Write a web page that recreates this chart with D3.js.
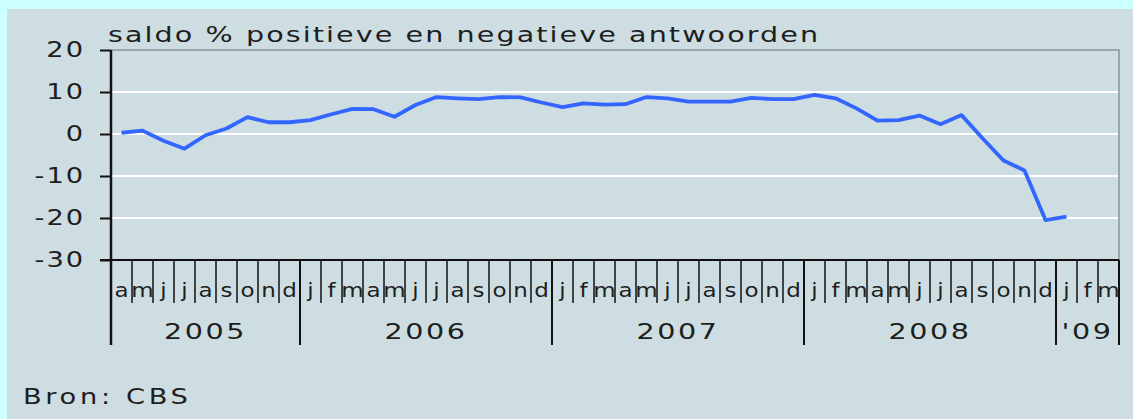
<!DOCTYPE html>
<html>
<head>
<meta charset="utf-8">
<script src="https://cdn.jsdelivr.net/npm/d3@7"></script>
<style>
  html, body { margin: 0; padding: 0; background: #ccffff; }
  svg { display: block; }
  text { font-family: "DejaVu Sans", Verdana, sans-serif; fill: #1e1e1e; }
</style>
</head>
<body>
<svg id="chart"></svg>
<script>
// maanden april 2005 t/m maart 2009
const maanden = [
  "a","m","j","j","a","s","o","n","d",
  "j","f","m","a","m","j","j","a","s","o","n","d",
  "j","f","m","a","m","j","j","a","s","o","n","d",
  "j","f","m","a","m","j","j","a","s","o","n","d",
  "j","f","m"
];
const jaren = ["2005", "2006", "2007", "2008", "'09"];
const maandenPerJaar = [9, 12, 12, 12, 3];

// saldo % positieve en negatieve antwoorden, april 2005 t/m januari 2009
const saldo = [
  0.3, 0.8, -1.6, -3.5, -0.3, 1.3, 4.0, 2.8, 2.8,
  3.3, 4.7, 6.0, 5.9, 4.1, 6.9, 8.8, 8.5, 8.3, 8.8, 8.7, 7.5,
  6.4, 7.3, 7.0, 7.1, 8.8, 8.5, 7.7, 7.7, 7.7, 8.6, 8.3, 8.3,
  9.3, 8.5, 6.1, 3.2, 3.3, 4.4, 2.3, 4.5, -1.0, -6.3, -8.7,
  -20.5, -19.7
];
const yTicks = [20, 10, 0, -10, -20, -30];

const W = 1133, H = 419;
const SX = 1.3; // the original lettering is stretched wide
const svg = d3.select("#chart").attr("width", W).attr("height", H);

svg.append("rect").attr("width", W).attr("height", H).attr("fill", "#ccffff");
svg.append("rect").attr("x", 7).attr("y", 9)
   .attr("width", W - 7).attr("height", H - 9).attr("fill", "#cddde2");

const pLeft = 111, pRight = 1119, pTop = 50, pBottom = 260;

const idx = d3.range(maanden.length);
const x = d3.scaleBand().domain(idx).range([pLeft, pRight]).paddingInner(0).paddingOuter(0);
const y = d3.scaleLinear().domain([-30, 20]).range([pBottom, pTop]);

function wideText(sel, tx, ty, str, size, ls, anchor) {
  return sel.append("text")
    .attr("transform", `translate(${tx},${ty}) scale(${SX},1)`)
    .attr("font-size", size).attr("letter-spacing", ls)
    .attr("text-anchor", anchor || "start")
    .text(str);
}

// grid
svg.append("g").selectAll("line")
   .data(yTicks.filter(d => d > -30 && d < 20)).enter().append("line")
   .attr("x1", pLeft).attr("x2", pRight)
   .attr("y1", d => y(d)).attr("y2", d => y(d))
   .attr("stroke", "#fff").attr("stroke-width", 2);

// frame top + right
svg.append("path")
   .attr("d", `M${pLeft},${y(20)}H${pRight}V${y(-30)}`)
   .attr("fill", "none").attr("stroke", "#8a9499").attr("stroke-width", 1.5);

// y axis
const yAxis = svg.append("g")
   .attr("transform", `translate(${pLeft},0)`)
   .call(d3.axisLeft(y).tickValues(yTicks).tickFormat(d => String(d))
     .tickSize(11).tickPadding(15).tickSizeOuter(0));
yAxis.select(".domain").remove();
yAxis.selectAll(".tick line").attr("stroke", "#111").attr("stroke-width", 2);
yAxis.selectAll(".tick text")
   .attr("x", -26 / SX)
   .attr("transform", `scale(${SX},1)`)
   .attr("font-size", 21).attr("letter-spacing", 1.5).attr("fill", "#1e1e1e")
   .style("font-family", "DejaVu Sans, sans-serif");

// axis lines
svg.append("line").attr("x1", pLeft).attr("x2", pLeft)
   .attr("y1", pTop).attr("y2", 345)
   .attr("stroke", "#111").attr("stroke-width", 2.5);
svg.append("line").attr("x1", pLeft - 11).attr("x2", pRight)
   .attr("y1", pBottom).attr("y2", pBottom)
   .attr("stroke", "#111").attr("stroke-width", 2);

// month ticks + labels
const xg = svg.append("g");
xg.selectAll("line.m").data(idx.slice(1)).enter().append("line")
   .attr("class", "m")
   .attr("x1", d => x(d)).attr("x2", d => x(d))
   .attr("y1", pBottom).attr("y2", 303)
   .attr("stroke", "#111").attr("stroke-width", 1.5);
xg.selectAll("text.m").data(idx).enter().append("text")
   .attr("class", "m")
   .attr("transform", d => `translate(${x(d) + x.bandwidth() / 2},297) scale(1.15,1)`)
   .attr("text-anchor", "middle").attr("font-size", 20)
   .text(d => maanden[d]);

// year dividers + labels
const grenzen = [0, ...Array.from(d3.cumsum(maandenPerJaar))];
const gx = d => d < maanden.length ? x(d) : pRight;
xg.selectAll("line.j").data(grenzen).enter().append("line")
   .attr("class", "j")
   .attr("x1", gx).attr("x2", gx)
   .attr("y1", pBottom).attr("y2", 345)
   .attr("stroke", "#111").attr("stroke-width", 2);
jaren.forEach((j, i) => {
  wideText(xg, (gx(grenzen[i]) + gx(grenzen[i + 1])) / 2, 339, j, 22, 2, "middle");
});

// line
const line = d3.line()
   .x((d, i) => x(i) + x.bandwidth() / 2)
   .y(d => y(d));
svg.append("path").datum(saldo)
   .attr("d", line)
   .attr("fill", "none").attr("stroke", "#3366ff")
   .attr("stroke-width", 3.8).attr("stroke-linejoin", "round");

// titles
wideText(svg, 108, 42, "saldo % positieve en negatieve antwoorden", 22, 1.6);
wideText(svg, 23, 404, "Bron: CBS", 21, 2.8);
</script>
</body>
</html>
